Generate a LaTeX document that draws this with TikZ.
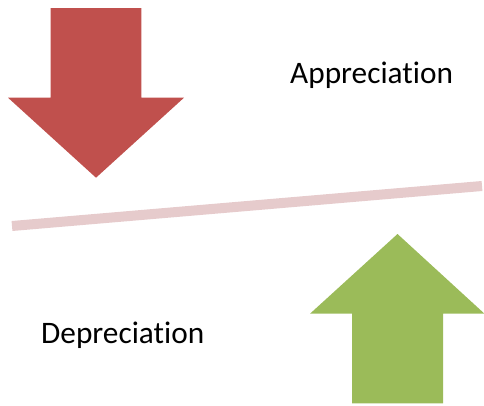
\documentclass[tikz,border=0pt]{standalone}
\usepackage{fontspec}
\setmainfont[Ligatures={NoCommon}]{Carlito}
\usetikzlibrary{positioning}
\definecolor{fallred}{HTML}{C0504D}
\definecolor{risegreen}{HTML}{9BBB59}
\definecolor{beampink}{HTML}{E6CBCC}
\begin{document}
\begin{tikzpicture}[x=1pt, y=-1pt,
% Shape styles
 fall/.style={fill=fallred, draw=none},
 rise/.style={fill=risegreen, draw=none},
 beam/.style={draw=beampink, line width=10pt},
% Label styles
 word/.style={font=\fontsize{31.3}{36}\selectfont, inner sep=0pt, anchor=base west}
]
\useasboundingbox (0,0) rectangle (484,405);
% Down arrow (top left)
\fill[fall] (50.7,8) -- (141.3,8) -- (141.3,97.7) -- (184,97.7) -- (96,177.7)
 -- (8,97.7) -- (50.7,97.7) -- cycle;
% Up arrow (bottom right)
\fill[rise] (352,403.3) -- (443,403.3) -- (443,313.7) -- (484.5,313.7) -- (397.5,234)
 -- (310,313.7) -- (352,313.7) -- cycle;
% Tilted beam
\coordinate (beamleft) at (12,226);
\coordinate (beamright) at (482,186);
\draw[beam] (beamleft) -- (beamright);
% Labels
\node[word] (appreciation) at (290,83) {Appreciation};
\node[word] (depreciation) at (41,343) {Depreciation};
\end{tikzpicture}
\end{document}
